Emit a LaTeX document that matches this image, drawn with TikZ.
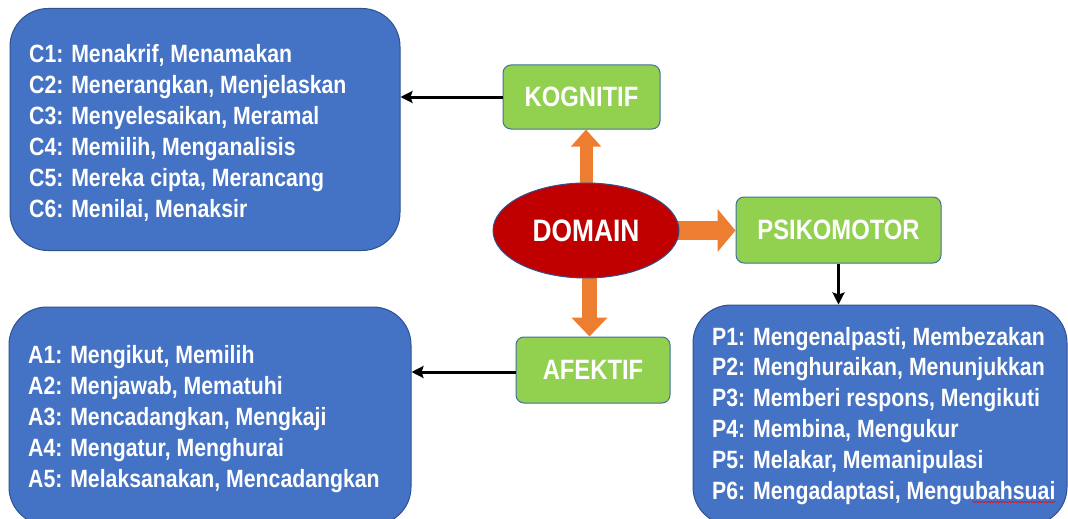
\documentclass[tikz,border=0pt]{standalone}
\usepackage{fontspec}
\setmainfont{Liberation Sans}[FakeStretch=0.85]
\usetikzlibrary{arrows.meta,shapes.geometric,backgrounds,decorations.pathmorphing}
\definecolor{boxblue}{HTML}{4472C4}
\definecolor{edgeblue}{HTML}{2F528F}
\definecolor{labgreen}{HTML}{92D050}
\definecolor{greenedge}{HTML}{41719C}
\definecolor{domred}{HTML}{C00000}
\definecolor{arrorange}{HTML}{ED7D31}
\begin{document}
\begin{tikzpicture}[x=1pt,y=-1pt,
  listbox/.style={draw=edgeblue, line width=1pt, fill=boxblue, rounded corners=38pt, inner sep=0pt},
  listline/.style={anchor=base west, inner sep=0pt, text=white, font=\fontsize{25}{30}\selectfont\bfseries},
  labelbox/.style={draw=greenedge, line width=1pt, fill=labgreen, rounded corners=8pt, text=white,
    font=\fontsize{28}{30}\selectfont\bfseries, inner sep=0pt},
  domainnode/.style={ellipse, draw=edgeblue, line width=1pt, fill=domred, text=white,
    font=\fontsize{31}{33}\selectfont\bfseries, inner sep=0pt, minimum width=186pt, minimum height=95pt},
  linkarrow/.style={line width=3pt, -{Stealth[length=12pt,width=12pt,inset=2pt]}},
]
\useasboundingbox (0,0) rectangle (1068,519);

% list boxes
\node[listbox, minimum width=390pt, minimum height=242pt] (cbox) at (205,129.5) {};
\node[listbox, minimum width=402pt, minimum height=218pt] (abox) at (210,416) {};
\node[listbox, minimum width=374pt, minimum height=220pt] (pbox) at (880,415) {};

% domain and labels
\node[domainnode] (dom) at (586,230.5) {DOMAIN};
\node[labelbox, minimum width=157pt, minimum height=64pt] (kog) at (581.5,97) {KOGNITIF};
\node[labelbox, minimum width=205pt, minimum height=66pt] (psi) at (838.5,230) {PSIKOMOTOR};
\node[labelbox, minimum width=154pt, minimum height=66pt] (afe) at (593,370) {AFEKTIF};

% block arrows behind the ellipse
\begin{scope}[on background layer]
  \fill[white] (0,0) rectangle (1068,519);
  \draw[line width=13pt, arrorange, -{Triangle[width=29pt,length=17pt]}]
    (dom.center) -- (dom.center |- kog.south);
  \draw[line width=19pt, arrorange, -{Triangle[width=42pt,length=18pt]}]
    (dom.center) -- (dom.center -| psi.west);
  \draw[line width=15pt, arrorange, -{Triangle[width=35pt,length=19pt]}]
    ([xshift=3.5pt]dom.center) -- ([xshift=3.5pt]dom.center |- afe.north);
\end{scope}

% black connectors
\draw[linkarrow] (kog.west) -- (kog.west -| cbox.east);
\draw[linkarrow] ([yshift=-2pt]afe.west) -- ([yshift=-2pt]afe.west -| abox.east);
\draw[linkarrow, line width=2.5pt] (psi.south) -- (psi.south |- pbox.north);

% texts
\foreach \i/\t in {1/{C1: Menakrif, Menamakan},2/{C2: Menerangkan, Menjelaskan},
  3/{C3: Menyelesaikan, Meramal},4/{C4: Memilih, Menganalisis},
  5/{C5: Mereka cipta, Merancang},6/{C6: Menilai, Menaksir}}
  \node[listline] (c\i) at (29,{63+30.8*(\i-1)}) {\t};
\foreach \i/\t in {1/{A1: Mengikut, Memilih},2/{A2: Menjawab, Mematuhi},
  3/{A3: Mencadangkan, Mengkaji},4/{A4: Mengatur, Menghurai},
  5/{A5: Melaksanakan, Mencadangkan}}
  \node[listline] (a\i) at (28,{363+31*(\i-1)}) {\t};
\foreach \i/\t in {1/{P1: Mengenalpasti, Membezakan},2/{P2: Menghuraikan, Menunjukkan},
  3/{P3: Memberi respons, Mengikuti},4/{P4: Membina, Mengukur},
  5/{P5: Melakar, Memanipulasi},6/{P6: Mengadaptasi, Mengubahsuai}}
  \node[listline] (p\i) at (712,{345+30.8*(\i-1)}) {\t};

% spell-check squiggle
\draw[red, line width=0.6pt, decorate, decoration={snake, segment length=3pt, amplitude=0.7pt}]
  ([xshift=-83pt,yshift=-3pt]p6.base east) -- ([yshift=-3pt]p6.base east);
\end{tikzpicture}
\end{document}
